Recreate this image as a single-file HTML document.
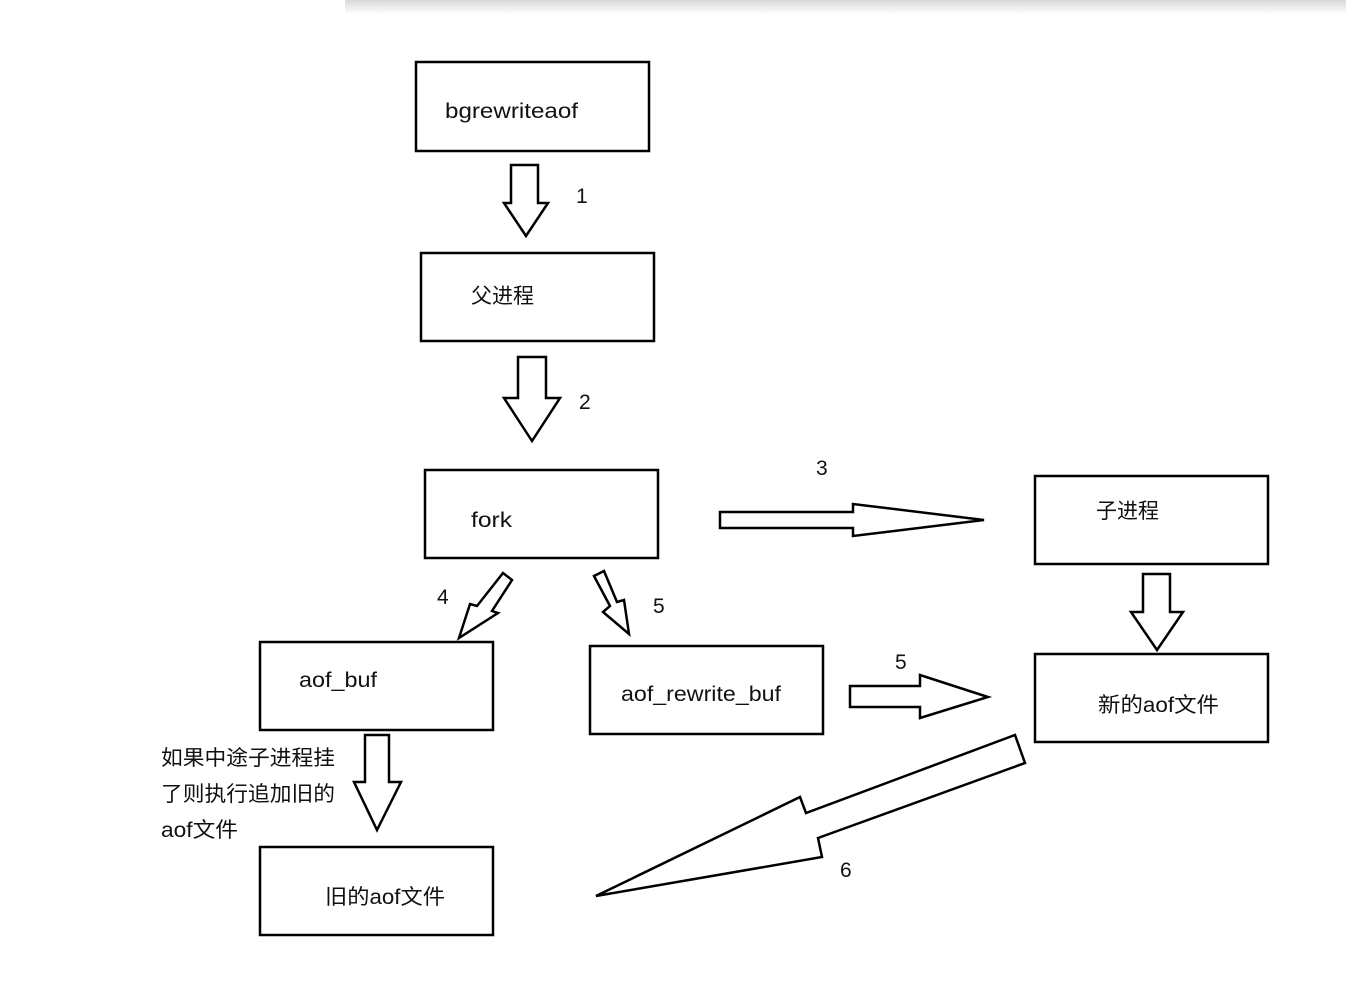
<!DOCTYPE html>
<html><head><meta charset="utf-8"><style>
html,body{margin:0;padding:0;background:#fff;}
svg{display:block;}
text{font-family:"Liberation Sans","Noto Sans CJK SC",sans-serif;font-size:21px;fill:#111;}
</style></head><body>
<svg width="1346" height="998" viewBox="0 0 1346 998" xmlns="http://www.w3.org/2000/svg">
<defs><linearGradient id="g" x1="0" y1="0" x2="0" y2="1"><stop offset="0" stop-color="#d8d8d8"/><stop offset="1" stop-color="#fff"/></linearGradient></defs>
<rect x="345" y="0" width="1001" height="14" fill="url(#g)"/>
<g fill="#fff" stroke="#000" stroke-width="2.5">
<rect x="416" y="62" width="233" height="89"/>
<rect x="421" y="253" width="233" height="88"/>
<rect x="425" y="470" width="233" height="88"/>
<rect x="1035" y="476" width="233" height="88"/>
<rect x="260" y="642" width="233" height="88"/>
<rect x="590" y="646" width="233" height="88"/>
<rect x="1035" y="654" width="233" height="88"/>
<rect x="260" y="847" width="233" height="88"/>
<polygon points="511,165 538,165 538,203 548,203 526,236 504,203 511,203"/>
<polygon points="518,357 546,357 546,398 560,398 532,441 504,398 518,398"/>
<polygon points="720,512 853,512 853,504 984,520 853,536 853,528 720,528"/>
<polygon points="503,573 512,580 492,611 498,613 459,638 470,604 477,606"/>
<polygon points="594,576 604,571 617,602 624,600 629,634 603,612 610,606"/>
<polygon points="850,686 920,686 920,675 988,697 920,718 920,707 850,707"/>
<polygon points="1015,735 1025,763 818,838 822,857 596,896 800,797 806,813"/>
<polygon points="365,735 389,735 389,782 401,782 377,830 354,782 365,782"/>
<polygon points="1143,574 1170,574 1170,612 1183,612 1157,650 1131,612 1143,612"/>
</g>
<text x="445" y="118" textLength="133" lengthAdjust="spacingAndGlyphs">bgrewriteaof</text>
<text x="471" y="303">父进程</text>
<text x="471" y="527" textLength="41" lengthAdjust="spacingAndGlyphs">fork</text>
<text x="1096" y="518">子进程</text>
<text x="299" y="687" textLength="78" lengthAdjust="spacingAndGlyphs">aof_buf</text>
<text x="621" y="701" textLength="160" lengthAdjust="spacingAndGlyphs">aof_rewrite_buf</text>
<text x="1098" y="712" textLength="121" lengthAdjust="spacingAndGlyphs">新的aof文件</text>
<text x="325" y="904" textLength="120" lengthAdjust="spacingAndGlyphs">旧的aof文件</text>
<text x="161" y="765" textLength="174" lengthAdjust="spacingAndGlyphs">如果中途子进程挂</text>
<text x="161" y="801" textLength="174" lengthAdjust="spacingAndGlyphs">了则执行追加旧的</text>
<text x="161" y="837" textLength="77" lengthAdjust="spacingAndGlyphs">aof文件</text>
<text x="576" y="203">1</text>
<text x="579" y="409">2</text>
<text x="816" y="475">3</text>
<text x="437" y="604">4</text>
<text x="653" y="613">5</text>
<text x="895" y="669">5</text>
<text x="840" y="877">6</text>
</svg>
</body></html>
